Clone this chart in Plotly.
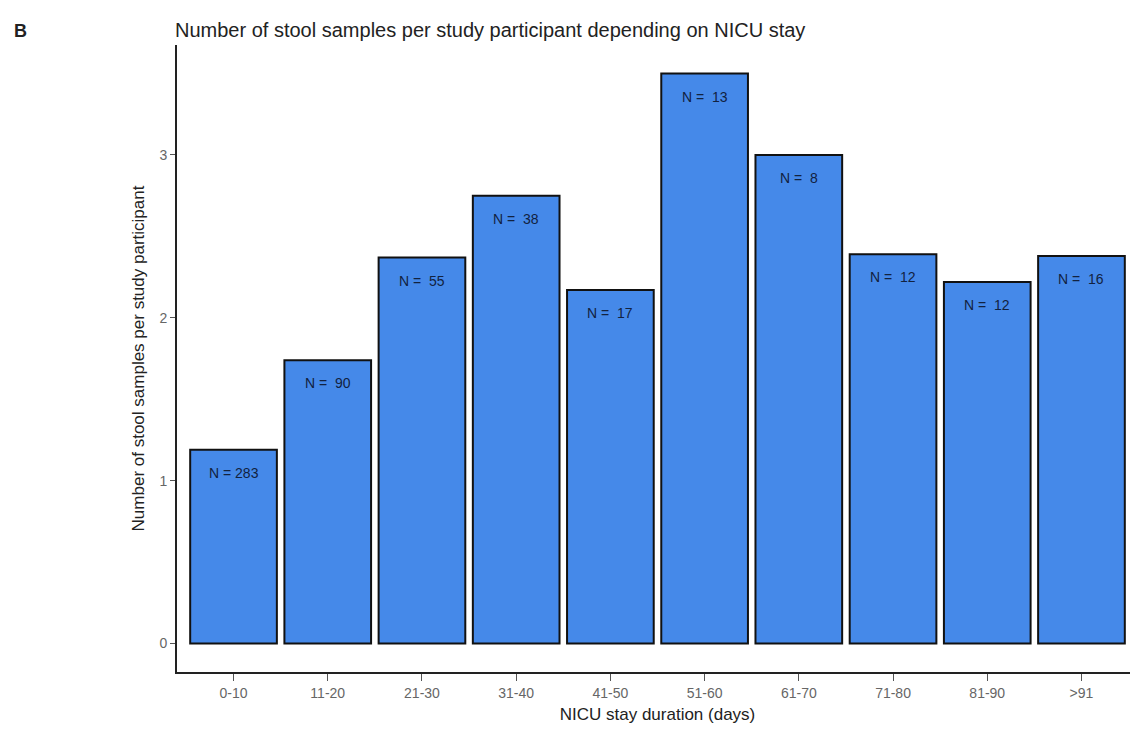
import plotly.graph_objects as go

# NICU stay bins, mean stool samples per participant, group sizes
categories = ["0-10", "11-20", "21-30", "31-40", "41-50",
              "51-60", "61-70", "71-80", "81-90", ">91"]
samples = [1.19, 1.74, 2.37, 2.75, 2.17, 3.5, 3.0, 2.39, 2.22, 2.38]
n_counts = [283, 90, 55, 38, 17, 13, 8, 12, 12, 16]

labels = ["N = %s" % n if n >= 100 else "N =  %s" % n for n in n_counts]

font_family = "Liberation Sans, Arial, sans-serif"

fig = go.Figure()
fig.add_trace(go.Bar(
    x=categories, y=samples,
    width=0.92,
    marker=dict(color="#4589E9", line=dict(color="#111111", width=2)),
    hoverinfo="x+y",
))

for cat, val, lab in zip(categories, samples, labels):
    fig.add_annotation(x=cat, y=val, text=lab, showarrow=False,
                       yanchor="top", yshift=-13,
                       font=dict(family=font_family, size=14, color="#12223f"))

fig.add_annotation(xref="paper", yref="paper", x=-0.172, y=1.003,
                   xanchor="left", yanchor="bottom", text="<b>B</b>",
                   showarrow=False, font=dict(family=font_family, size=18, color="#222"))

fig.update_layout(
    width=1130, height=726,
    margin=dict(l=169, r=0, t=37, b=62),
    paper_bgcolor="white", plot_bgcolor="white",
    showlegend=False,
    title=dict(text="Number of stool samples per study participant depending on NICU stay",
               x=167 / 1130, xanchor="left", y=0.97, yanchor="middle",
               font=dict(family=font_family, size=20, color="#222")),
    font=dict(family=font_family),
)
fig.update_xaxes(
    range=[-0.6, 9.6], showline=True, linecolor="#222", linewidth=2,
    ticks="outside", ticklen=7, tickcolor="#555", showgrid=False,
    tickfont=dict(size=14, color="#666"),
    title=dict(text="NICU stay duration (days)", font=dict(size=17, color="#222"), standoff=8),
)
fig.update_yaxes(
    range=[-0.175, 3.675], showline=True, linecolor="#222", linewidth=2,
    ticks="outside", ticklen=5, tickcolor="#555", showgrid=False, zeroline=False,
    tickvals=[0, 1, 2, 3], tickfont=dict(size=14, color="#666"),
    title=dict(text="Number of stool samples per study participant",
               font=dict(size=17, color="#222"), standoff=10),
)

fig.write_html("out.html")
